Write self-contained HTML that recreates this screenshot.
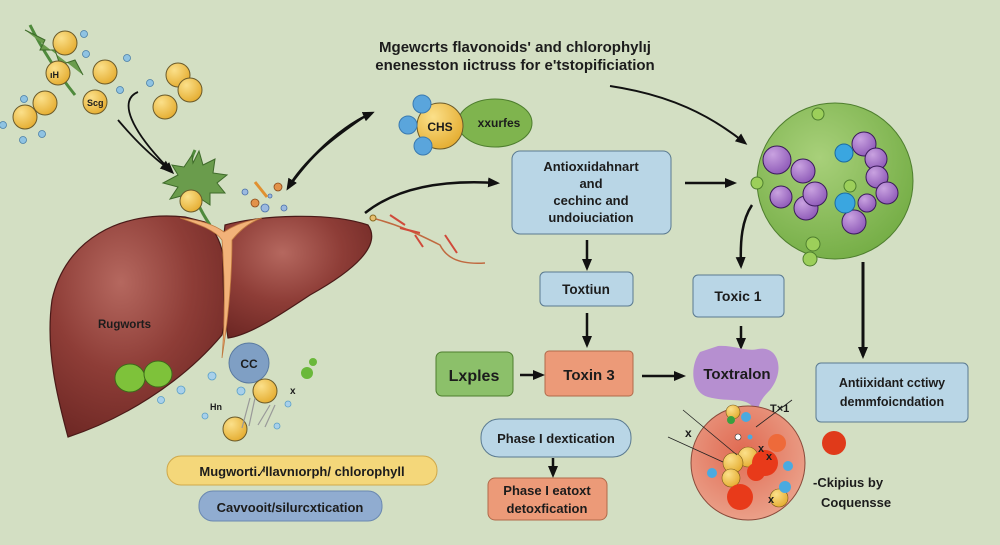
<!DOCTYPE html>
<html><head><meta charset="utf-8">
<style>
html,body{margin:0;padding:0;background:#d3dfc3;}
svg{display:block;}
text{font-family:"Liberation Sans",sans-serif;font-weight:bold;fill:#1c1c1c;}
</style></head>
<body>
<svg width="1000" height="545" viewBox="0 0 1000 545" xmlns="http://www.w3.org/2000/svg">
<defs>
<marker id="ah" markerWidth="12" markerHeight="12" refX="9" refY="6" orient="auto" markerUnits="userSpaceOnUse">
<path d="M0,1 L12,6 L0,11 Z" fill="#111"/></marker>
<radialGradient id="liv" cx="0.4" cy="0.3" r="0.8"><stop offset="0" stop-color="#b5685f"/><stop offset="0.5" stop-color="#8e3d37"/><stop offset="1" stop-color="#6a2522"/></radialGradient>
<radialGradient id="grn" cx="0.4" cy="0.35" r="0.7"><stop offset="0" stop-color="#a8d07a"/><stop offset="1" stop-color="#74ad45"/></radialGradient>
<radialGradient id="red" cx="0.45" cy="0.4" r="0.7"><stop offset="0" stop-color="#e06a52"/><stop offset="1" stop-color="#eca891"/></radialGradient>
<radialGradient id="yel" cx="0.35" cy="0.3" r="0.8"><stop offset="0" stop-color="#fbe08a"/><stop offset="1" stop-color="#e3a92a"/></radialGradient>
<radialGradient id="pur" cx="0.35" cy="0.3" r="0.8"><stop offset="0" stop-color="#c9a2e0"/><stop offset="1" stop-color="#8a55b5"/></radialGradient>
</defs>

<!-- title -->
<text x="515" y="52" font-size="15" text-anchor="middle" font-weight="normal">Mgewcrts flavonoids' and chlorophylıj</text>
<text x="515" y="70" font-size="15" text-anchor="middle" font-weight="normal">enenesston ıictruss for e'tstopificiation</text>

<!-- top-left molecules -->
<g stroke="#6a5a2a" stroke-width="1">
<path d="M30 25 C40 45 55 70 75 95" stroke="#4f8a3c" stroke-width="3" fill="none"/>
<path d="M25 30 l20 10 l-5 10 l15 0 l5 15 l15-5 l8 15" fill="#6a9c4c" stroke="#3e6a2a"/>
<circle cx="65" cy="43" r="12" fill="url(#yel)"/>
<circle cx="58" cy="73" r="12" fill="url(#yel)"/>
<circle cx="105" cy="72" r="12" fill="url(#yel)"/>
<circle cx="45" cy="103" r="12" fill="url(#yel)"/>
<circle cx="25" cy="117" r="12" fill="url(#yel)"/>
<circle cx="95" cy="102" r="12" fill="url(#yel)"/>
<circle cx="178" cy="75" r="12" fill="url(#yel)"/>
<circle cx="190" cy="90" r="12" fill="url(#yel)"/>
<circle cx="165" cy="107" r="12" fill="url(#yel)"/>
</g>
<g fill="#8fc3e2" stroke="#4a7fa8" stroke-width="0.8">
<circle cx="84" cy="34" r="3.5"/><circle cx="86" cy="54" r="3.5"/><circle cx="127" cy="58" r="3.5"/>
<circle cx="24" cy="99" r="3.5"/><circle cx="3" cy="125" r="3.5"/><circle cx="42" cy="134" r="3.5"/>
<circle cx="23" cy="140" r="3.5"/><circle cx="120" cy="90" r="3.5"/><circle cx="150" cy="83" r="3.5"/>
</g>
<text x="50" y="78" font-size="9" font-weight="normal">ıH</text>
<text x="87" y="106" font-size="9" font-weight="normal">Scg</text>

<!-- arrows into liver -->
<path d="M118 120 C135 140 150 155 170 170" stroke="#111" stroke-width="1.8" fill="none" marker-end="url(#ah)"/>
<path d="M138 92 C118 100 130 130 172 172" stroke="#111" stroke-width="1.8" fill="none" marker-end="url(#ah)"/>

<!-- plant sprig on liver -->
<path d="M195 150 C185 170 190 195 210 225" stroke="#4f8a3c" stroke-width="3" fill="none"/>
<path d="M192 155 l-8 12 l-12 -2 l6 10 l-15 8 l15 4 l-8 12 l15-4 l5 12 l8-10 l12 8 l0-12 l15 0 l-8-10 l10-8 l-14-2 l2-14 l-12 6 l-4-14 l-6 12 z" fill="#6a9c4c" stroke="#3e6a2a"/>
<circle cx="191" cy="201" r="11" fill="url(#yel)" stroke="#6a5a2a"/>

<!-- small particles -->
<g fill="#9bb9e0" stroke="#4a6fa8" stroke-width="0.8">
<circle cx="245" cy="192" r="3"/><circle cx="265" cy="208" r="4"/><circle cx="284" cy="208" r="3"/><circle cx="270" cy="196" r="2"/>
</g>
<circle cx="278" cy="187" r="4" fill="#e2924a" stroke="#8a4a1a" stroke-width="0.8"/>
<circle cx="255" cy="203" r="4" fill="#e2924a" stroke="#8a4a1a" stroke-width="0.8"/>
<path d="M255 182 l12 15" stroke="#e09030" stroke-width="3"/>

<!-- double arrow -->
<path d="M290 185 C315 150 345 125 372 113" stroke="#111" stroke-width="2.5" fill="none" marker-end="url(#ah)"/>
<path d="M362 118 C330 140 305 160 288 188" stroke="#111" stroke-width="2.5" fill="none" marker-end="url(#ah)"/>

<!-- liver -->
<path d="M185 217 C120 210 65 240 52 300 C45 350 58 400 68 437 C120 420 180 385 222 335 C230 300 230 240 205 222 Z" fill="url(#liv)" stroke="#4a1a18" stroke-width="1.2"/>
<path d="M225 225 C260 215 330 212 368 225 C382 245 355 270 310 295 C280 315 250 335 228 338 C222 300 222 250 225 225 Z" fill="url(#liv)" stroke="#4a1a18" stroke-width="1.2"/>
<path d="M180 218 C200 225 215 230 222 240 C225 280 225 320 222 358 C228 320 232 280 232 240 C240 230 250 222 262 218 C240 222 230 228 224 232 C215 225 200 220 180 218 Z" fill="#f2b279" stroke="#c07a40" stroke-width="0.8"/>
<text x="98" y="328" font-size="11.5">Rugworts</text>
<ellipse cx="130" cy="378" rx="15" ry="14" fill="#7ec23a" stroke="#3e6a1a"/>
<ellipse cx="158" cy="374" rx="14" ry="13" fill="#7ec23a" stroke="#3e6a1a"/>

<!-- CC -->
<circle cx="249" cy="363" r="20" fill="#7f9fc4" stroke="#5a7aa0"/>
<text x="249" y="368" font-size="12" text-anchor="middle" font-weight="normal">CC</text>
<circle cx="265" cy="391" r="12" fill="url(#yel)" stroke="#6a5a2a"/>
<circle cx="235" cy="429" r="12" fill="url(#yel)" stroke="#6a5a2a"/>
<circle cx="313" cy="362" r="4" fill="#6ab83a"/><circle cx="307" cy="373" r="6" fill="#6ab83a"/>
<g fill="#a8d0ea" stroke="#5a9fc8" stroke-width="0.8">
<circle cx="212" cy="376" r="4"/><circle cx="181" cy="390" r="4"/><circle cx="161" cy="400" r="3.5"/><circle cx="241" cy="391" r="4"/><circle cx="205" cy="416" r="3"/><circle cx="277" cy="426" r="3"/><circle cx="288" cy="404" r="3"/>
</g>
<path d="M250 398 l-8 30 M255 398 l-6 28 M270 405 l-12 20 M275 405 l-10 22" stroke="#999" stroke-width="1.2"/>
<text x="210" y="410" font-size="9" font-weight="normal">Hn</text>
<text x="290" y="394" font-size="10" font-weight="normal">x</text>

<!-- pills bottom left -->
<rect x="167" y="456" width="270" height="29" rx="14" fill="#f4d77a" stroke="#cfa84a"/>
<text x="302" y="476" font-size="13" text-anchor="middle">Mugworti.⁄ⁱllavnıorph/ chlorophyll</text>
<rect x="199" y="491" width="183" height="30" rx="14" fill="#90acd0" stroke="#6a88b0"/>
<text x="290" y="512" font-size="13" text-anchor="middle">Cavvooit/silurcxtication</text>

<!-- fibers -->
<path d="M372 218 C400 225 420 235 440 245 C445 255 455 265 485 263" stroke="#c06a40" stroke-width="1.5" fill="none"/>
<path d="M390 215 l15 10 M400 228 l20 5 M415 235 l8 12 M445 235 l12 18" stroke="#d04a3a" stroke-width="2"/>
<circle cx="373" cy="218" r="3" fill="#e8c070" stroke="#8a6a20"/>
<path d="M365 213 C400 185 450 180 497 183" stroke="#111" stroke-width="2.5" fill="none" marker-end="url(#ah)"/>

<!-- CHS -->
<ellipse cx="495" cy="123" rx="37" ry="24" fill="#7fb44e" stroke="#4e7e2e"/>
<circle cx="440" cy="126" r="23" fill="url(#yel)" stroke="#6a5a2a"/>
<g fill="#5aa5dc" stroke="#3a7ab0"><circle cx="422" cy="104" r="9"/><circle cx="408" cy="125" r="9"/><circle cx="423" cy="146" r="9"/></g>
<text x="440" y="131" font-size="12" text-anchor="middle">CHS</text>
<text x="499" y="127" font-size="12" text-anchor="middle">xxurfes</text>

<!-- main box -->
<rect x="512" y="151" width="159" height="83" rx="8" fill="#b9d6e6" stroke="#5a7a90"/>
<g font-size="13" text-anchor="middle"><text x="591" y="171">Antioxıidahnart</text><text x="591" y="188">and</text><text x="591" y="205">cechinc and</text><text x="591" y="222">undoiuciation</text></g>

<!-- arrows -->
<path d="M610 86 C670 95 710 115 745 143" stroke="#111" stroke-width="2" fill="none" marker-end="url(#ah)"/>
<path d="M685 183 L734 183" stroke="#111" stroke-width="2.5" marker-end="url(#ah)"/>
<path d="M752 205 C742 220 740 240 741 266" stroke="#111" stroke-width="2.5" fill="none" marker-end="url(#ah)"/>
<path d="M863 262 L863 356" stroke="#111" stroke-width="3" marker-end="url(#ah)"/>
<path d="M587 240 L587 268" stroke="#111" stroke-width="2.5" marker-end="url(#ah)"/>
<path d="M587 313 L587 345" stroke="#111" stroke-width="2.5" marker-end="url(#ah)"/>
<path d="M741 326 L741 347" stroke="#111" stroke-width="2.5" marker-end="url(#ah)"/>
<path d="M520 375 L542 375" stroke="#111" stroke-width="2.5" marker-end="url(#ah)"/>
<path d="M642 376 L683 376" stroke="#111" stroke-width="2.5" marker-end="url(#ah)"/>
<path d="M553 458 L553 475" stroke="#111" stroke-width="2.5" marker-end="url(#ah)"/>

<!-- green cell -->
<circle cx="835" cy="181" r="78" fill="url(#grn)" stroke="#4e7e2e"/>
<g fill="url(#pur)" stroke="#3a1a5a">
<circle cx="777" cy="160" r="14"/><circle cx="803" cy="171" r="12"/><circle cx="781" cy="197" r="11"/><circle cx="806" cy="208" r="12"/><circle cx="815" cy="194" r="12"/>
<circle cx="864" cy="144" r="12"/><circle cx="876" cy="159" r="11"/><circle cx="877" cy="177" r="11"/><circle cx="887" cy="193" r="11"/><circle cx="867" cy="203" r="9"/><circle cx="854" cy="222" r="12"/>
</g>
<g fill="#3aa6e0" stroke="#1a6aa0"><circle cx="844" cy="153" r="9"/><circle cx="845" cy="203" r="10"/></g>
<g fill="#9ccf5a" stroke="#4e7e2e"><circle cx="818" cy="114" r="6"/><circle cx="757" cy="183" r="6"/><circle cx="850" cy="186" r="6"/><circle cx="813" cy="244" r="7"/><circle cx="810" cy="259" r="7"/></g>

<!-- boxes -->
<rect x="540" y="272" width="93" height="34" rx="5" fill="#b9d6e6" stroke="#5a7a90"/>
<text x="586" y="294" font-size="13.5" text-anchor="middle">Toxtiun</text>
<rect x="693" y="275" width="91" height="42" rx="5" fill="#b9d6e6" stroke="#5a7a90"/>
<text x="738" y="301" font-size="14" text-anchor="middle">Toxic 1</text>
<rect x="436" y="352" width="77" height="44" rx="6" fill="#8cc06a" stroke="#4e7e2e"/>
<text x="474" y="381" font-size="16" text-anchor="middle">Lxples</text>
<rect x="545" y="351" width="88" height="45" rx="4" fill="#ec9a78" stroke="#b06a4a"/>
<text x="589" y="380" font-size="15" text-anchor="middle">Toxin 3</text>
<rect x="816" y="363" width="152" height="59" rx="5" fill="#b9d6e6" stroke="#5a7a90"/>
<text x="892" y="387" font-size="12.5" text-anchor="middle">Antiixidant cctiwy</text>
<text x="892" y="406" font-size="12.5" text-anchor="middle">demmfoicndation</text>
<rect x="481" y="419" width="150" height="38" rx="18" fill="#b9d6e6" stroke="#5a7a90"/>
<text x="556" y="443" font-size="13" text-anchor="middle">Phase I dextication</text>
<rect x="488" y="478" width="119" height="42" rx="7" fill="#ec9a78" stroke="#b06a4a"/>
<text x="547" y="495" font-size="13" text-anchor="middle">Phase I eatoxt</text>
<text x="547" y="513" font-size="13" text-anchor="middle">detoxfication</text>

<!-- purple blob -->
<path d="M700 352 C690 365 690 392 708 397 C728 402 738 398 748 403 C753 406 756 410 758 413 C758 404 762 398 770 390 C786 370 778 345 758 349 C745 352 735 345 718 346 Z" fill="#b68fd0"/>
<text x="737" y="379" font-size="15" text-anchor="middle">Toxtralon</text>

<!-- red cell -->
<ellipse cx="748" cy="463" rx="57" ry="57" fill="url(#red)" stroke="#8a4a3a"/>
<g stroke="#7a5a1a" stroke-width="0.6">
<circle cx="733" cy="412" r="7" fill="url(#yel)"/><circle cx="748" cy="457" r="10" fill="url(#yel)"/><circle cx="733" cy="463" r="10" fill="url(#yel)"/><circle cx="731" cy="478" r="9" fill="url(#yel)"/><circle cx="779" cy="498" r="9" fill="url(#yel)"/>
</g>
<g fill="#e83a1a"><circle cx="765" cy="463" r="13"/><circle cx="756" cy="472" r="9"/><circle cx="740" cy="497" r="13"/><circle cx="777" cy="443" r="9" fill="#ee6a3a"/><circle cx="834" cy="443" r="12" fill="#e03a1a"/></g>
<g fill="#4aaae0"><circle cx="712" cy="473" r="5"/><circle cx="788" cy="466" r="5"/><circle cx="785" cy="487" r="6"/><circle cx="746" cy="417" r="5"/><circle cx="750" cy="437" r="2.5"/></g>
<circle cx="731" cy="420" r="4" fill="#3aa040"/>
<circle cx="738" cy="437" r="3" fill="#fff" stroke="#333" stroke-width="0.6"/>
<path d="M683 410 L737 455 M668 437 L723 462 M792 400 L756 427" stroke="#222" stroke-width="0.8"/>
<text x="685" y="437" font-size="12" font-weight="normal">x</text>
<text x="758" y="452" font-size="11" font-weight="normal">x</text>
<text x="766" y="460" font-size="11" font-weight="normal">x</text>
<text x="768" y="503" font-size="11" font-weight="normal">x</text>
<text x="770" y="412" font-size="11" font-weight="normal" fill="#a02020">T×1</text>
<text x="813" y="487" font-size="13">-Ckipius by</text>
<text x="821" y="507" font-size="13">Coquensse</text>
</svg>
</body></html>
